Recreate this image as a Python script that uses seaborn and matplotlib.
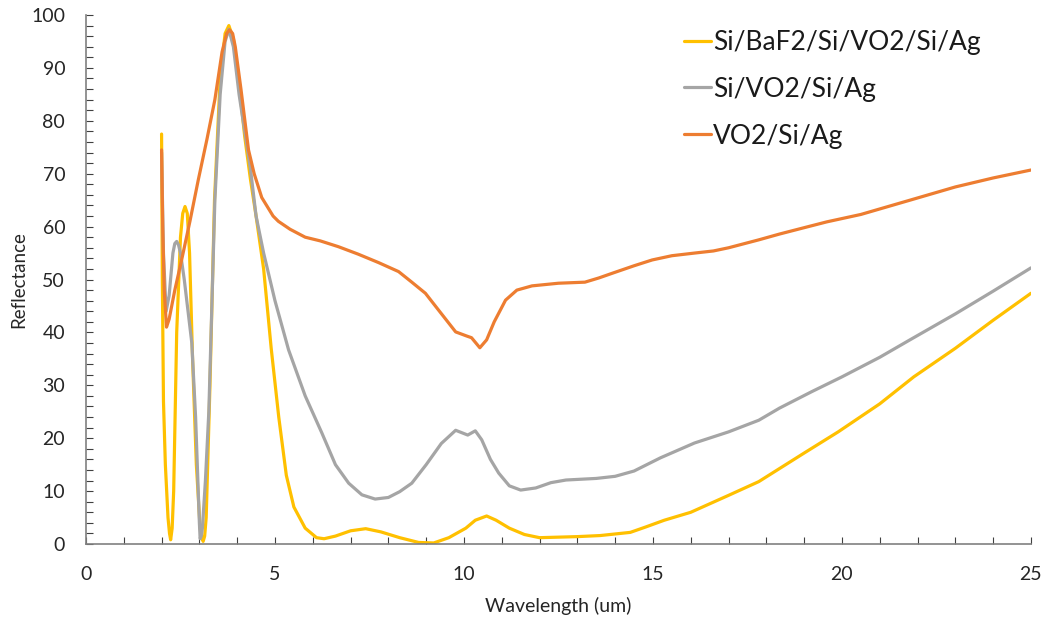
import pandas as pd
import matplotlib
matplotlib.use("Agg")
import matplotlib.pyplot as plt
import seaborn as sns
from matplotlib.lines import Line2D
from matplotlib.ticker import MultipleLocator

# Values
bafx = [2.0, 2.02, 2.05, 2.1, 2.17, 2.21, 2.24, 2.28, 2.32, 2.4, 2.5, 2.56, 2.62, 2.68,
        2.74, 2.82, 2.92, 3.02, 3.07, 3.1, 3.14, 3.18, 3.28, 3.4, 3.55, 3.68, 3.78, 3.9,
        4.05, 4.2, 4.35, 4.5, 4.7, 4.9, 5.1, 5.3, 5.5, 5.8, 6.1, 6.3, 6.6, 7.0, 7.4, 7.8,
        8.3, 8.8, 9.2, 9.6, 10.05, 10.3, 10.6, 10.85, 11.2, 11.6, 12.0, 12.5, 13.0, 13.6,
        14.4, 14.8, 15.3, 16.0, 17.0, 17.8, 18.4, 19.0, 19.9, 21.0, 21.9, 23.0, 24.0, 25.0]
bafy = [77.5, 50, 27, 15, 5, 2, 0.8, 3, 10, 40, 58, 62.5, 63.8, 62.5,
        55, 35, 15, 3, 1, 0.5, 1.5, 5, 30, 65, 88, 96.5, 98, 95.5,
        87, 77, 69, 62, 52, 37, 24, 13, 7, 3, 1.2, 1.0, 1.5, 2.5, 2.9, 2.3,
        1.2, 0.3, 0.2, 1.2, 3, 4.5, 5.3, 4.5, 3, 1.8, 1.2, 1.3, 1.4, 1.6,
        2.2, 3.2, 4.5, 6.0, 9.2, 11.8, 14.5, 17.2, 21.2, 26.5, 31.6, 37, 42.3, 47.4]

six = [2.0, 2.05, 2.12, 2.2, 2.3, 2.35, 2.4, 2.45, 2.5, 2.6, 2.7, 2.8, 2.9, 2.97, 3.0,
       3.02, 3.05, 3.08, 3.16, 3.25, 3.33, 3.41, 3.55, 3.68, 3.78, 3.9, 4.05, 4.2, 4.35,
       4.5, 4.7, 5.0, 5.36, 5.8, 6.24, 6.6, 6.95, 7.3, 7.65, 8.0, 8.3, 8.62, 9.0, 9.4,
       9.78, 10.1, 10.3, 10.47, 10.7, 10.92, 11.2, 11.5, 11.9, 12.3, 12.7, 13.5, 14.0,
       14.5, 15.2, 16.1, 17.0, 17.8, 18.35, 19.2, 20.0, 21.0, 21.8, 23.0, 24.0, 25.0]
siy = [74, 55, 44, 47, 55, 56.8, 57.2, 56.5, 55, 50, 44, 38, 24, 10, 4,
       1, 1.5, 3, 12, 25, 45, 65, 85, 95, 97.3, 94, 85, 78, 71,
       62, 55, 46, 36.7, 28, 21, 15, 11.5, 9.3, 8.5, 8.8, 9.9, 11.5, 15, 19,
       21.5, 20.6, 21.4, 19.7, 16, 13.4, 11, 10.2, 10.6, 11.6, 12.1, 12.4, 12.8,
       13.8, 16.3, 19.1, 21.2, 23.4, 25.7, 28.8, 31.6, 35.3, 38.6, 43.5, 47.8, 52.2]

vox = [2.0, 2.03, 2.07, 2.13, 2.2, 2.35, 2.53, 2.75, 2.97, 3.2, 3.41, 3.6, 3.72, 3.8,
       3.88, 3.95, 4.1, 4.3, 4.45, 4.65, 4.95, 5.09, 5.4, 5.8, 6.2, 6.68, 7.2, 7.74,
       8.27, 8.62, 8.98, 9.33, 9.78, 10.08, 10.2, 10.42, 10.6, 10.8, 11.1, 11.4, 11.8,
       12.5, 13.2, 13.57, 13.93, 14.5, 14.98, 15.5, 16.1, 16.6, 17.0, 17.8, 18.35,
       19.0, 19.6, 20.5, 21.8, 23.0, 24.0, 25.0]
voy = [74.5, 60, 48, 41, 42.5, 48, 53.7, 61, 68.8, 76.5, 84, 93, 96.5, 97.2,
       96.5, 94, 86, 74.5, 70, 65.5, 62, 61, 59.5, 58, 57.3, 56.2, 54.8, 53.2,
       51.5, 49.5, 47.4, 44.2, 40.1, 39.3, 39, 37.1, 38.6, 42, 46.1, 48, 48.8,
       49.3, 49.5, 50.3, 51.2, 52.6, 53.7, 54.5, 55, 55.4, 56, 57.5, 58.6,
       59.8, 60.9, 62.3, 65, 67.5, 69.2, 70.7]

series = ["Si/BaF2/Si/VO2/Si/Ag", "Si/VO2/Si/Ag", "VO2/Si/Ag"]
colors = ["#FFC000", "#A5A5A5", "#ED7D31"]

df = pd.concat([
    pd.DataFrame({"x": bafx, "y": bafy, "s": series[0]}),
    pd.DataFrame({"x": six, "y": siy, "s": series[1]}),
    pd.DataFrame({"x": vox, "y": voy, "s": series[2]}),
])

sns.set_style("white")
plt.rcParams["font.family"] = ["Lato", "DejaVu Sans"]

fig = plt.figure(figsize=(10.46, 6.18), dpi=100)
ax = fig.add_axes([0.0822, 0.1197, 0.9034, 0.856])

sns.lineplot(data=df, x="x", y="y", hue="s", palette=dict(zip(series, colors)),
             sort=False, estimator=None, linewidth=2.3, legend=False, ax=ax)
for ln in ax.lines:
    ln.set_solid_joinstyle("round")

ax.set_xlim(0, 25)
ax.set_ylim(0, 100)
ax.xaxis.set_major_locator(MultipleLocator(5))
ax.xaxis.set_minor_locator(MultipleLocator(1))
ax.yaxis.set_major_locator(MultipleLocator(10))
ax.yaxis.set_minor_locator(MultipleLocator(2))
ax.tick_params(which="both", direction="in", color="#404040", width=0.8, length=5,
               labelsize=14, labelcolor="#262626")
ax.tick_params(axis="x", which="both", bottom=True, pad=16)
ax.tick_params(axis="y", which="both", left=True, pad=15)

for side in ["top", "right"]:
    ax.spines[side].set_visible(False)
for side in ["left", "bottom"]:
    ax.spines[side].set_color("#808080")
    ax.spines[side].set_linewidth(1.2)

ax.set_xlabel("Wavelength (um)", fontsize=14, color="#262626", labelpad=10)
ax.set_ylabel("Reflectance", fontsize=13.5, color="#262626", labelpad=3)

handles = [Line2D([0], [0], color=c, lw=2.3) for c in colors]
ax.legend(handles, series, loc="upper left", bbox_to_anchor=(0.608, 1.017),
          frameon=False, fontsize=19, handlelength=1.0, handletextpad=0.1,
          labelspacing=0.83, labelcolor="#1a1a1a")

fig.savefig("out.png", dpi=100)
